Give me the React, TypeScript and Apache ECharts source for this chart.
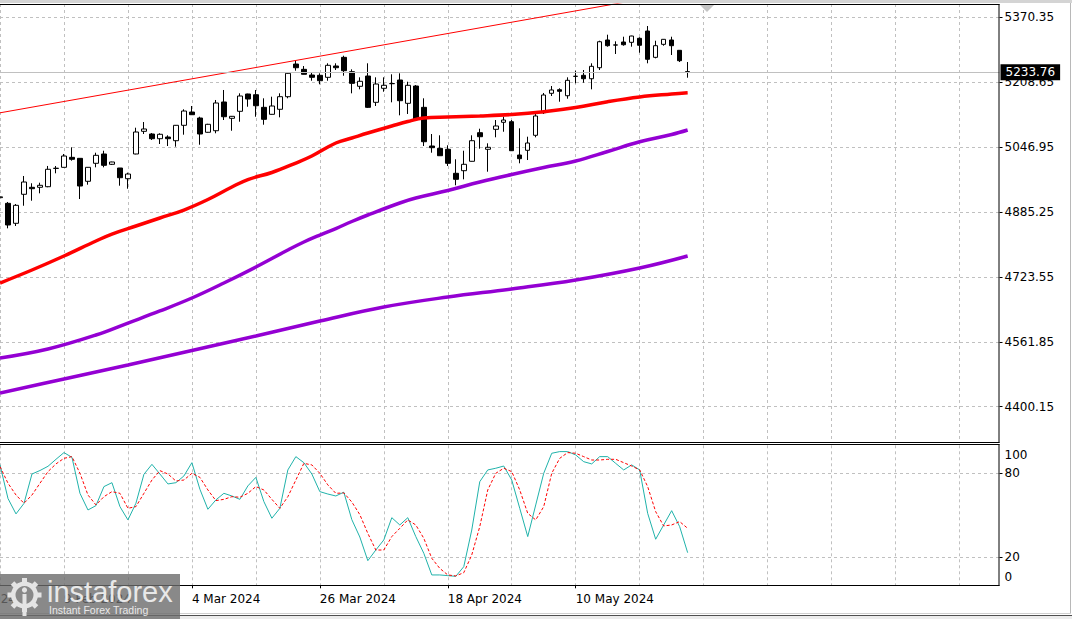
import React, { useEffect, useRef } from "react";
import * as echarts from "echarts";

// ---------- DATA ----------
// daily candles [open, close, low, high], first visible bar = 30 Jan 2024
const ohlc: number[][] = [
  [4921.0, 4923.0, 4918.0, 4926.0],
  [4906.9, 4852.9, 4844.6, 4910.2],
  [4857.1, 4901.9, 4850.4, 4905.2],
  [4929.4, 4960.0, 4900.9, 4975.0],
  [4946.8, 4943.3, 4913.4, 4956.8],
  [4946.8, 4951.8, 4931.8, 4958.3],
  [4948.3, 4991.7, 4947.0, 5000.0],
  [4993.8, 4994.4, 4981.7, 4999.9],
  [4996.6, 5024.8, 4996.0, 5029.8],
  [5021.5, 5016.6, 5013.1, 5046.5],
  [5019.0, 4950.0, 4917.6, 5019.5],
  [4961.8, 4996.6, 4953.3, 4997.0],
  [5006.6, 5026.5, 4996.6, 5033.0],
  [5029.8, 5001.6, 4996.6, 5038.0],
  [5004.1, 5009.9, 5002.4, 5010.6],
  [4994.9, 4970.7, 4950.8, 4995.0],
  [4968.2, 4979.9, 4943.3, 4983.2],
  [5029.8, 5084.6, 5029.0, 5095.3],
  [5086.3, 5092.1, 5079.6, 5109.5],
  [5079.6, 5067.9, 5064.7, 5082.0],
  [5067.9, 5078.9, 5054.7, 5081.4],
  [5072.1, 5067.9, 5049.7, 5076.4],
  [5062.9, 5101.3, 5048.0, 5102.0],
  [5101.3, 5136.9, 5077.9, 5141.2],
  [5134.4, 5127.7, 5127.0, 5149.4],
  [5119.5, 5079.6, 5052.9, 5122.7],
  [5083.9, 5103.8, 5083.0, 5105.0],
  [5087.8, 5156.9, 5081.4, 5164.4],
  [5159.4, 5122.7, 5114.5, 5189.3],
  [5118.7, 5123.7, 5087.8, 5124.5],
  [5136.2, 5174.3, 5110.3, 5181.0],
  [5179.3, 5166.8, 5147.6, 5180.0],
  [5177.5, 5150.1, 5122.7, 5189.3],
  [5146.1, 5116.2, 5102.8, 5168.6],
  [5128.7, 5149.4, 5128.0, 5172.6],
  [5141.2, 5172.6, 5121.2, 5181.0],
  [5172.6, 5230.9, 5168.6, 5234.1],
  [5254.0, 5244.8, 5237.4, 5262.3],
  [5240.8, 5228.4, 5228.0, 5249.0],
  [5226.6, 5220.9, 5212.4, 5232.4],
  [5225.9, 5212.4, 5203.5, 5230.9],
  [5220.9, 5250.8, 5212.4, 5255.8],
  [5249.1, 5244.8, 5239.1, 5255.8],
  [5270.7, 5237.4, 5224.9, 5274.7],
  [5234.9, 5205.9, 5181.0, 5240.8],
  [5198.5, 5211.0, 5191.0, 5220.9],
  [5224.1, 5146.1, 5144.4, 5255.8],
  [5158.6, 5204.2, 5149.4, 5220.9],
  [5193.5, 5201.0, 5185.0, 5220.9],
  [5205.0, 5205.4, 5158.6, 5228.4],
  [5214.2, 5162.6, 5126.2, 5230.9],
  [5156.1, 5201.0, 5129.5, 5209.9],
  [5199.2, 5116.2, 5115.5, 5201.7],
  [5146.1, 5060.4, 5049.7, 5168.6],
  [5049.7, 5045.5, 5033.0, 5079.6],
  [5043.9, 5025.5, 5025.0, 5076.4],
  [5041.5, 5006.6, 4999.9, 5051.5],
  [4981.7, 4966.7, 4951.8, 5016.6],
  [4988.2, 5004.1, 4966.7, 5038.0],
  [5011.6, 5062.9, 5011.0, 5076.4],
  [5082.9, 5072.9, 5043.0, 5092.8],
  [5041.5, 5046.5, 4985.7, 5056.4],
  [5091.3, 5099.6, 5071.4, 5114.5],
  [5108.8, 5114.5, 5085.3, 5122.7],
  [5110.3, 5038.0, 5037.5, 5114.5],
  [5027.3, 5018.1, 5006.6, 5093.8],
  [5039.0, 5057.2, 5014.8, 5072.9],
  [5076.4, 5124.5, 5071.4, 5131.2],
  [5132.7, 5176.8, 5129.5, 5181.8],
  [5181.0, 5189.3, 5174.3, 5199.2],
  [5190.0, 5186.0, 5160.1, 5193.5],
  [5175.0, 5213.4, 5167.6, 5220.9],
  [5223.2, 5223.6, 5206.0, 5237.4],
  [5225.9, 5217.4, 5207.4, 5239.1],
  [5217.4, 5248.3, 5191.0, 5255.8],
  [5244.8, 5309.6, 5239.1, 5312.1],
  [5313.9, 5299.7, 5297.2, 5327.1],
  [5301.2, 5301.6, 5279.0, 5310.6],
  [5308.9, 5302.1, 5299.7, 5322.1],
  [5308.1, 5323.8, 5297.2, 5324.5],
  [5318.1, 5300.7, 5282.2, 5320.6],
  [5336.3, 5265.8, 5255.8, 5348.7],
  [5270.7, 5299.7, 5268.2, 5312.1],
  [5303.1, 5315.6, 5299.7, 5316.0],
  [5313.9, 5299.7, 5276.5, 5322.1],
  [5288.2, 5262.3, 5259.0, 5288.5],
  [5234.9, 5233.76, 5219.9, 5259.0],
];

// moving averages: [bar index, price]
const maRed: number[][] = [
  [0, 4708.3], [4, 4740.7], [8, 4775.6], [12, 4813.0], [14, 4830.4], [17, 4850.4],
  [20, 4870.3], [23, 4890.2], [26, 4916.4], [29, 4947.5], [31, 4966.2], [34, 4983.7],
  [37, 5007.3], [39, 5024.8], [42, 5057.2], [44, 5069.6], [46, 5082.1], [49, 5099.5],
  [51, 5110.8], [53, 5119.5], [56, 5122.0], [60, 5124.5], [64, 5128.2], [68, 5135.2],
  [72, 5145.7], [76, 5160.1], [80, 5171.8], [84, 5179.3], [86, 5182.5],
];
const maPurpleFast: number[][] = [
  [0, 4521.4], [6, 4543.9], [12, 4578.7], [16, 4608.6], [20, 4638.6], [24, 4670.9],
  [28, 4708.3], [32, 4748.2], [36, 4790.5], [38, 4810.5], [40, 4827.9], [42, 4844.1],
  [44, 4861.6], [46, 4877.8], [50, 4907.7], [52, 4920.1], [56, 4938.8], [60, 4960.0],
  [64, 4978.7], [68, 4996.1], [72, 5012.3], [76, 5036.0], [80, 5060.4], [84, 5078.4],
  [86, 5089.6],
];
const maPurpleSlow: number[][] = [
  [0, 4434.2], [8, 4469.1], [16, 4504.0], [24, 4540.1], [32, 4576.4], [40, 4613.6],
  [48, 4648.5], [56, 4673.4], [64, 4693.4], [72, 4715.8], [80, 4745.7], [86, 4775.6],
];
const trendLine: number[][] = [[0, 5132.4], [100, 5485.3]];

// stochastic %K and %D
const stochK: number[] = [
  86, 62, 51, 58.5, 79.5, 82, 85, 90, 94.8, 91.4, 65.7, 53.8, 56.9, 70.5, 73.3, 56.2, 46.7,
  58.6, 79.3, 86.4, 79.5, 72.4, 73.3, 78.1, 87.6, 68.6, 54.3, 61.0, 65.7, 63.8, 61.4, 71.0,
  77.1, 59.8, 47.9, 55.0, 82.4, 91.9, 87.6, 79.5, 66.9, 65.2, 63.8, 66.5, 46.9, 34.5, 17.6,
  25.2, 32.4, 48.3, 43.1, 48.3, 34.8, 22.9, 7.4, 7.4, 6.9, 6.4, 13.3, 39.5, 74.0, 82.4, 83.6,
  85.2, 75.2, 55.0, 34.8, 57.4, 80.0, 94.3, 95.5, 95.5, 93.1, 88.3, 86.7, 91.9, 91.9, 87.1,
  82.4, 86.0, 82.4, 51.4, 32.9, 43.1, 53.3, 41.9, 23.3,
];
const stochD: number[] = [
  84.8, 72.9, 64.5, 58.6, 64.5, 72.9, 81.2, 86.7, 90.7, 91.9, 80, 64.5, 57.4, 63.3, 66.9, 65.7,
  55, 56.2, 65.7, 75.2, 81.9, 79.5, 74.5, 75.2, 80, 77.1, 68.1, 60.5, 61.4, 63.3, 62.9, 65.7,
  70.5, 68.1, 61.4, 55, 63.3, 75.2, 87.1, 86, 80, 71.7, 65.7, 66, 59.5, 50.5, 37.1, 25.2, 25.2,
  34.8, 40.7, 46.7, 43.1, 33.6, 19.3, 12.1, 7.4, 6.7, 9.0, 21.7, 41.9, 68.1, 80, 83.6, 81.2,
  68.1, 51.4, 46.7, 56.2, 80, 90.7, 94.8, 94.3, 91.9, 89.5, 89.5, 90, 90, 87.6, 85.2, 82.4,
  70.5, 52.6, 42.4, 43.1, 45.5, 40.7,
];

const priceTicks: number[] = [4400.15, 4561.85, 4723.55, 4885.25, 5046.95, 5208.65, 5370.35];
const stochLabelTicks: number[] = [0, 20, 80, 100];
const stochGridTicks: number[] = [20, 80];
const priceMin = 4312.1;
const priceMax = 5403.6;
const lastPrice = 5233.76;
const offscreenDateLabel = "18 Jan 2024";

const MONTHS = ["Jan", "Feb", "Mar", "Apr", "May", "Jun", "Jul", "Aug", "Sep", "Oct", "Nov", "Dec"];
const CLOSED_DAYS = ["2024-03-29"];
const SLOTS = 126;

function buildDates(n: number): string[] {
  const out: string[] = [];
  let t = Date.UTC(2024, 0, 30);
  while (out.length < n) {
    const d = new Date(t);
    const wd = d.getUTCDay();
    const iso = d.toISOString().slice(0, 10);
    if (wd !== 0 && wd !== 6 && !CLOSED_DAYS.includes(iso)) {
      out.push(`${d.getUTCDate()} ${MONTHS[d.getUTCMonth()]} ${d.getUTCFullYear()}`);
    }
    t += 86400000;
  }
  return out;
}

function sparse(points: number[][], len: number): (number | null)[] {
  const arr: (number | null)[] = new Array(len).fill(null);
  points.forEach(([i, v]) => {
    arr[i] = v;
  });
  return arr;
}

const FONT = "'DejaVu Sans', sans-serif";

export default function App() {
  const ref = useRef<HTMLDivElement>(null);

  useEffect(() => {
    if (!ref.current) return;
    const chart = echarts.init(ref.current, undefined, { renderer: "svg" });
    const cats = buildDates(SLOTS);
    const gridLine = { color: "#c0c0c0", type: [3, 3], width: 1 };
    const splitEvery8 = (i: number) => i % 8 === 0;
    const labelAt = (i: number) => i % 16 === 8 && i < ohlc.length;
    const LOGO_Z = 200;
    const logoFill = "#e4e4e4";

    const teeth: any[] = [];
    for (let k = 0; k < 8; k++) {
      teeth.push({
        type: "rect",
        silent: true,
        z: LOGO_Z + 1,
        x: 24.5,
        y: 595,
        rotation: (k * Math.PI) / 4,
        shape: { x: -2.5, y: -17, width: 5, height: 5 },
        style: { fill: logoFill },
      });
    }

    const option: any = {
      animation: false,
      backgroundColor: "#ffffff",
      grid: [
        { left: -0.5, top: 4, width: 1000, height: 438 },
        { left: -0.5, top: 445.3, width: 1000, height: 140 },
      ],
      xAxis: [
        {
          type: "category",
          gridIndex: 0,
          data: cats,
          boundaryGap: false,
          axisLine: { show: false },
          axisTick: { show: false },
          axisLabel: { show: false },
          splitLine: { show: true, interval: splitEvery8, lineStyle: gridLine },
        },
        {
          type: "category",
          gridIndex: 1,
          data: cats,
          boundaryGap: false,
          axisLine: { show: false },
          axisTick: { show: true, interval: labelAt, length: 3, lineStyle: { color: "#000" } },
          axisLabel: {
            show: true,
            interval: labelAt,
            align: "left",
            margin: 8,
            color: "#000",
            fontFamily: FONT,
            fontSize: 12,
          },
          splitLine: { show: true, interval: splitEvery8, lineStyle: gridLine },
        },
      ],
      yAxis: [
        {
          type: "value",
          gridIndex: 0,
          position: "right",
          min: priceMin,
          max: priceMax,
          axisLine: { show: false },
          axisTick: { show: true, customValues: priceTicks, length: 3, lineStyle: { color: "#000" } },
          axisLabel: {
            customValues: priceTicks,
            formatter: (v: number) => v.toFixed(2),
            color: "#000",
            fontFamily: FONT,
            fontSize: 12,
            margin: 5,
          },
          splitLine: { show: true, lineStyle: gridLine },
        },
        {
          type: "value",
          gridIndex: 1,
          position: "right",
          min: 0,
          max: 100,
          axisLine: { show: false },
          axisTick: { show: true, customValues: stochGridTicks, length: 3, lineStyle: { color: "#000" } },
          axisLabel: {
            customValues: stochLabelTicks,
            formatter: (v: number) => (v === 100 ? "{top|100}" : v === 0 ? "{bot|0}" : String(v)),
            color: "#000",
            fontFamily: FONT,
            fontSize: 12,
            margin: 5,
            rich: {
              top: { padding: [19, 0, 0, 0], fontFamily: FONT, fontSize: 12, color: "#000" },
              bot: { padding: [0, 0, 17, 0], fontFamily: FONT, fontSize: 12, color: "#000" },
            },
          },
          splitLine: { show: true, lineStyle: gridLine },
        },
      ],
      series: [
        {
          type: "candlestick",
          xAxisIndex: 0,
          yAxisIndex: 0,
          data: ohlc,
          barWidth: 5,
          silent: true,
          itemStyle: {
            color: "#ffffff",
            color0: "#000000",
            borderColor: "#000000",
            borderColor0: "#000000",
            borderColorDoji: "#000000",
            borderWidth: 1,
          },
          markLine: {
            silent: true,
            symbol: ["none", "none"],
            data: [{ yAxis: lastPrice }],
            lineStyle: { color: "#c0c0c0", type: "solid", width: 1 },
            label: {
              show: true,
              position: "end",
              formatter: lastPrice.toFixed(2),
              backgroundColor: "#000",
              color: "#fff",
              padding: [2, 5, 2, 5],
              distance: 1,
              fontFamily: FONT,
              fontSize: 12,
              lineHeight: 12,
            },
            emphasis: { disabled: true },
          },
        },
        {
          type: "line",
          xAxisIndex: 0,
          yAxisIndex: 0,
          data: sparse(trendLine, 101),
          connectNulls: true,
          symbol: "none",
          silent: true,
          lineStyle: { color: "#ff0000", width: 1 },
        },
        {
          type: "line",
          xAxisIndex: 0,
          yAxisIndex: 0,
          data: sparse(maPurpleSlow, ohlc.length),
          connectNulls: true,
          smooth: 0.4,
          symbol: "none",
          silent: true,
          lineStyle: { color: "#9400d3", width: 3.5 },
        },
        {
          type: "line",
          xAxisIndex: 0,
          yAxisIndex: 0,
          data: sparse(maPurpleFast, ohlc.length),
          connectNulls: true,
          smooth: 0.4,
          symbol: "none",
          silent: true,
          lineStyle: { color: "#9400d3", width: 3.5 },
        },
        {
          type: "line",
          xAxisIndex: 0,
          yAxisIndex: 0,
          data: sparse(maRed, ohlc.length),
          connectNulls: true,
          smooth: 0.4,
          symbol: "none",
          silent: true,
          lineStyle: { color: "#ff0000", width: 3.5 },
        },
        {
          type: "line",
          xAxisIndex: 1,
          yAxisIndex: 1,
          data: stochK,
          symbol: "none",
          silent: true,
          lineStyle: { color: "#20b2aa", width: 1 },
        },
        {
          type: "line",
          xAxisIndex: 1,
          yAxisIndex: 1,
          data: stochD,
          symbol: "none",
          silent: true,
          lineStyle: { color: "#ff0000", width: 1, type: [3, 2] },
        },
      ],
      graphic: [
        { type: "rect", silent: true, z: 50, shape: { x: 0, y: 0, width: 1072, height: 3 }, style: { fill: "#d4d4d4" } },
        { type: "line", silent: true, z: 50, shape: { x1: 0, y1: 4.5, x2: 999.5, y2: 4.5 }, style: { stroke: "#000", lineWidth: 1 } },
        { type: "line", silent: true, z: 50, shape: { x1: 0, y1: 442.5, x2: 999.5, y2: 442.5 }, style: { stroke: "#000", lineWidth: 1 } },
        { type: "line", silent: true, z: 50, shape: { x1: 0, y1: 444.5, x2: 999.5, y2: 444.5 }, style: { stroke: "#000", lineWidth: 1 } },
        { type: "line", silent: true, z: 50, shape: { x1: 0, y1: 585.5, x2: 999.5, y2: 585.5 }, style: { stroke: "#000", lineWidth: 1 } },
        { type: "line", silent: true, z: 50, shape: { x1: 999, y1: 4, x2: 999, y2: 443 }, style: { stroke: "#000", lineWidth: 1 } },
        { type: "line", silent: true, z: 50, shape: { x1: 999, y1: 444, x2: 999, y2: 586 }, style: { stroke: "#000", lineWidth: 1 } },
        { type: "polygon", silent: true, z: 50, shape: { points: [[700, 5], [714, 5], [707, 12]] }, style: { fill: "#c4c4c4" } },
        { type: "line", silent: true, z: 50, shape: { x1: 1070.5, y1: 3, x2: 1070.5, y2: 614 }, style: { stroke: "#b8b8b8", lineWidth: 1 } },
        { type: "line", silent: true, z: 50, shape: { x1: 0, y1: 613.5, x2: 1071, y2: 613.5 }, style: { stroke: "#d0d0d0", lineWidth: 1 } },
        { type: "rect", silent: true, z: 50, shape: { x: 0, y: 615, width: 1072, height: 4 }, style: { fill: "#ececec" } },
        { type: "line", silent: true, z: 50, shape: { x1: 0, y1: 615.5, x2: 1072, y2: 615.5 }, style: { stroke: "#505050", lineWidth: 1 } },
        {
          type: "text",
          silent: true,
          z: 50,
          style: { text: offscreenDateLabel, x: -56, y: 599, verticalAlign: "middle", fill: "#000", font: `12px ${FONT}` },
        },
        { type: "rect", silent: true, z: LOGO_Z, shape: { x: 0, y: 574, width: 180, height: 45 }, style: { fill: "rgba(107,107,107,0.8)" } },
        { type: "ring", silent: true, z: LOGO_Z + 1, shape: { cx: 24.5, cy: 595, r: 13.5, r0: 9 }, style: { fill: logoFill } },
        ...teeth,
        { type: "circle", silent: true, z: LOGO_Z + 1, shape: { cx: 24.5, cy: 590, r: 2.6 }, style: { fill: logoFill } },
        { type: "rect", silent: true, z: LOGO_Z + 1, shape: { x: 22.5, y: 594, width: 4, height: 22 }, style: { fill: logoFill } },
        {
          type: "text",
          silent: true,
          z: LOGO_Z + 1,
          style: {
            text: "instaforex",
            x: 47,
            y: 592,
            verticalAlign: "middle",
            fill: "#e8e8e8",
            font: "29px 'Liberation Sans', sans-serif",
          },
        },
        {
          type: "text",
          silent: true,
          z: LOGO_Z + 1,
          style: {
            text: "Instant Forex Trading",
            x: 49,
            y: 610,
            verticalAlign: "middle",
            fill: "#e8e8e8",
            font: "10.5px 'Liberation Sans', sans-serif",
          },
        },
      ],
    };

    chart.setOption(option);
    return () => {
      chart.dispose();
    };
  }, []);

  return (
    <div
      ref={ref}
      style={{ position: "fixed", left: 0, top: 0, width: 1072, height: 619, background: "#fff" }}
    />
  );
}
